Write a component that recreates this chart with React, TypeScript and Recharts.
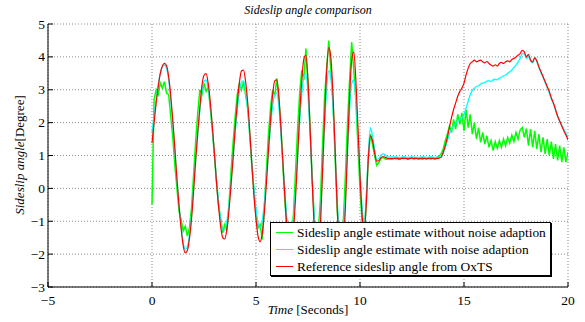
import React from 'react';
import { LineChart, Line, XAxis, YAxis, CartesianGrid } from 'recharts';

// time grid, 0..20 s every 0.1 s
const TIME = Array.from({ length: 201 }, (_, i) => i / 10);

const X_TICKS = [-5, 0, 5, 10, 15, 20];
const Y_TICKS = [-3, -2, -1, 0, 1, 2, 3, 4, 5];

// estimate without noise adaption (green)
const GREEN = [
  -0.5, 2.7, 3.0, 2.85, 3.2, 3.05, 3.25, 2.9, 2.85, 2.2,
  1.55, 0.7, 0.0, -0.7, -0.95, -1.3, -1.15, -1.45, -1.2, -0.6,
  0.4, 1.45, 2.3, 3.0, 2.85, 3.2, 2.95, 3.1, 2.45, 1.8,
  1.0, 0.2, -0.55, -0.9, -1.35, -1.1, -1.3, -0.5, 0.5, 1.4,
  2.2, 2.85, 3.2, 3.0, 3.25, 2.85, 2.45, 1.6, 0.7, -0.1,
  -0.8, -1.2, -1.1, -1.55, -0.6, 0.55, 1.65, 2.45, 3.0, 2.8,
  3.35, 2.7, 1.85, 0.6, -0.5, -1.3, -1.2, -1.6, -0.8, 0.5,
  1.8, 2.9, 3.6, 3.3, 4.25, 3.2, 1.85, 0.3, -0.9, -1.65,
  -1.3, -0.3, 1.3, 2.8, 3.7, 4.5, 3.6, 2.7, 1.0, -0.6,
  -1.6, -1.8, -1.0, 0.4, 2.0, 3.3, 4.45, 3.6, 2.7, 1.3,
  0.0, -1.0, -1.5, -0.4, 0.95, 1.65, 1.35, 1.0, 0.7, 0.78,
  0.9, 0.95, 0.9, 0.88, 0.92, 0.89, 0.93, 0.9, 0.91, 0.88,
  0.92, 0.9, 0.93, 0.89, 0.91, 0.92, 0.89, 0.93, 0.9, 0.91,
  0.88, 0.93, 0.9, 0.92, 0.89, 0.93, 0.9, 0.94, 0.98, 1.05,
  1.2, 1.45, 1.65, 1.9, 1.7, 2.1, 1.8, 2.25, 1.95, 2.3,
  1.75, 2.4, 1.85, 2.25, 1.65, 2.0, 1.5, 1.85, 1.4, 1.7,
  1.35, 1.6, 1.25, 1.45, 1.15, 1.42, 1.22, 1.45, 1.25, 1.5,
  1.3, 1.55, 1.38, 1.62, 1.42, 1.7, 1.5, 1.78, 1.85, 1.55,
  1.82, 1.3, 1.8, 1.25, 1.75, 1.2, 1.65, 1.1, 1.55, 1.05,
  1.5, 1.0, 1.42, 0.9, 1.35, 0.85, 1.3, 0.8, 1.25, 0.8,
  1.1,
];

// estimate with noise adaption (cyan)
const CYAN = [
  1.7, 2.2, 2.7, 3.15, 3.5, 3.7, 3.75, 3.65, 3.3, 2.72,
  1.98, 1.15, 0.27, -0.5, -1.16, -1.65, -1.85, -1.78, -1.42, -0.83,
  -0.02, 0.87, 1.65, 2.35, 2.95, 3.25, 3.3, 3.05, 2.55, 1.82,
  1.06, 0.27, -0.4, -0.95, -1.25, -1.26, -1.0, -0.5, 0.2, 0.93,
  1.72, 2.38, 2.93, 3.24, 3.27, 2.96, 2.42, 1.64, 0.78, 0.0,
  -0.62, -1.06, -1.2, -0.99, -0.45, 0.3, 1.11, 1.89, 2.5, 2.85,
  2.9, 2.48, 1.64, 0.72, -0.2, -1.0, -1.44, -1.42, -0.95, -0.1,
  0.95, 2.03, 2.85, 3.4, 3.48, 2.85, 1.65, 0.35, -0.85, -1.55,
  -1.54, -0.8, 0.6, 2.0, 3.05, 3.58, 3.35, 2.48, 1.17, -0.3,
  -1.35, -1.7, -1.35, -0.3, 1.15, 2.4, 3.18, 3.3, 2.75, 1.65,
  0.5, -0.55, -1.0, -0.3, 1.05, 1.85, 1.6, 1.2, 0.88, 0.9,
  1.0, 1.05, 1.02, 0.97, 0.95, 0.96, 0.95, 0.96, 0.95, 0.94,
  0.95, 0.96, 0.95, 0.94, 0.95, 0.96, 0.95, 0.95, 0.94, 0.95,
  0.96, 0.95, 0.94, 0.95, 0.96, 0.95, 0.94, 0.95, 0.95, 0.95,
  1.05, 1.25, 1.45, 1.65, 1.8, 1.9, 1.98, 2.05, 2.1, 2.15,
  2.25, 2.45, 2.65, 2.85, 2.98, 3.05, 3.1, 3.12, 3.18, 3.2,
  3.22, 3.26, 3.28, 3.25, 3.3, 3.32, 3.3, 3.36, 3.38, 3.42,
  3.45, 3.5, 3.55, 3.6, 3.68, 3.75, 3.85, 3.95, 4.1, 4.1,
  3.95, 4.03, 3.88, 3.82, 3.95, 3.85, 3.68, 3.52, 3.38, 3.22,
  3.06, 2.9, 2.72, 2.56, 2.38, 2.2, 2.05, 1.92, 1.8, 1.68,
  1.55,
];

// reference from OxTS (red)
const RED = [
  1.38, 2.0, 2.6, 3.1, 3.5, 3.72, 3.8, 3.73, 3.4, 2.82,
  2.07, 1.2, 0.28, -0.53, -1.22, -1.74, -1.96, -1.89, -1.53, -0.93,
  -0.08, 0.87, 1.7, 2.46, 3.12, 3.44, 3.49, 3.2, 2.64, 1.88,
  1.08, 0.19, -0.54, -1.15, -1.5, -1.54, -1.24, -0.67, 0.1, 0.93,
  1.84, 2.59, 3.21, 3.57, 3.6, 3.25, 2.62, 1.73, 0.74, -0.21,
  -0.94, -1.46, -1.62, -1.37, -0.73, 0.16, 1.15, 2.09, 2.85, 3.27,
  3.3, 2.8, 1.81, 0.71, -0.39, -1.33, -1.85, -1.83, -1.3, -0.29,
  0.96, 2.27, 3.28, 3.94, 4.05, 3.26, 1.84, 0.24, -1.18, -1.98,
  -1.97, -1.08, 0.52, 2.18, 3.59, 4.28, 3.97, 2.86, 1.24, -0.51,
  -1.75, -2.2, -1.75, -0.53, 1.2, 2.8, 3.89, 4.15, 3.3, 1.9,
  0.4, -0.8, -1.3, -0.5, 0.9, 1.6, 1.45, 1.1, 0.83, 0.84,
  0.93, 0.97, 0.95, 0.92, 0.9, 0.91, 0.9, 0.92, 0.91, 0.9,
  0.91, 0.92, 0.91, 0.9, 0.91, 0.92, 0.91, 0.91, 0.9, 0.91,
  0.92, 0.91, 0.9, 0.91, 0.92, 0.91, 0.9, 0.91, 0.92, 0.95,
  1.1, 1.3, 1.55, 1.85, 2.15, 2.4, 2.6, 2.8, 2.95, 3.05,
  3.2, 3.45, 3.65, 3.8, 3.85, 3.9, 3.85, 3.88, 3.9, 3.85,
  3.82, 3.86, 3.8, 3.75, 3.72, 3.76, 3.72, 3.8, 3.83, 3.8,
  3.85, 3.88, 3.85, 3.92, 3.95, 4.0, 4.05, 4.1, 4.2, 4.15,
  4.0, 4.08, 3.9, 3.85, 3.98, 3.88, 3.7, 3.55, 3.4, 3.25,
  3.1, 2.95, 2.75, 2.6, 2.4, 2.2, 2.05, 1.9, 1.75, 1.62,
  1.47,
];

const SERIES = [
  { key: 'green', name: 'Sideslip angle estimate without noise adaption', color: '#00ff00' },
  { key: 'cyan', name: 'Sideslip angle estimate with noise adaption', color: '#00ffff' },
  { key: 'red', name: 'Reference sideslip angle from OxTS', color: '#ff0000' },
];

const rows = TIME.map((t, i) => ({ t, green: GREEN[i], cyan: CYAN[i], red: RED[i] }));

const FONT = "'Liberation Serif', 'DejaVu Serif', serif";
const fmt = (v: number) => (v < 0 ? `\u2212${-v}` : `${v}`);

// inward tick marks (matlab style), label outside
const XTick = (props: any) => {
  const { x, y, payload } = props;
  return (
    <g>
      <line x1={x} x2={x} y1={287} y2={282} stroke="#000" />
      <text x={x} y={y + 10} textAnchor="middle" fill="#000" style={{ fontFamily: FONT, fontSize: 13.5 }}>
        {fmt(payload.value)}
      </text>
    </g>
  );
};

const YTick = (props: any) => {
  const { y, payload } = props;
  return (
    <g>
      <line x1={48} x2={53} y1={y} y2={y} stroke="#000" />
      <text x={45} y={y + 4.5} textAnchor="end" fill="#000" style={{ fontFamily: FONT, fontSize: 13.5 }}>
        {fmt(payload.value)}
      </text>
    </g>
  );
};

const LegendBox = () => (
  <div
    style={{
      position: 'absolute',
      left: 270,
      top: 222,
      width: 279,
      height: 51,
      border: '1px solid #000',
      boxShadow: '1px 1px 0 #000',
      background: '#fff',
      fontFamily: FONT,
      fontSize: 13.4,
      color: '#000',
      paddingTop: 1,
    }}
  >
    {SERIES.map((s) => (
      <div key={s.key} style={{ display: 'flex', alignItems: 'center', height: 17, lineHeight: '17px', whiteSpace: 'nowrap' }}>
        <span style={{ display: 'inline-block', width: 17, height: 1, background: s.color, marginLeft: 5, marginRight: 4 }} />
        <span>{s.name}</span>
      </div>
    ))}
  </div>
);

export default function App() {
  return (
    <div style={{ position: 'absolute', left: 0, top: 0, width: 585, height: 322, background: '#fff' }}>
      <LineChart
        width={585}
        height={322}
        data={rows}
        margin={{ top: 24, right: 17, bottom: 34, left: 47 }}
      >
        <CartesianGrid stroke="#8c8c8c" strokeDasharray="1 2" />
        <XAxis
          dataKey="t"
          type="number"
          domain={[-5, 20]}
          ticks={X_TICKS}
          height={1}
          tickLine={false}
          tick={<XTick />}
          axisLine={{ stroke: '#000' }}
          allowDataOverflow
        />
        <YAxis
          type="number"
          domain={[-3, 5]}
          ticks={Y_TICKS}
          width={1}
          tickLine={false}
          tick={<YTick />}
          axisLine={{ stroke: '#000' }}
          allowDataOverflow
        />
        <Line type="linear" dataKey="green" stroke="#00ff00" strokeWidth={1.5} dot={false} isAnimationActive={false} />
        <Line type="monotone" dataKey="cyan" stroke="#00ffff" strokeWidth={1.3} dot={false} isAnimationActive={false} />
        <Line type="monotone" dataKey="red" stroke="#ff0000" strokeWidth={1.2} dot={false} isAnimationActive={false} />
      </LineChart>
      <div
        style={{
          position: 'absolute',
          left: 48,
          width: 520,
          top: 3,
          textAlign: 'center',
          fontFamily: FONT,
          fontStyle: 'italic',
          fontSize: 12,
        }}
      >
        Sideslip angle comparison
      </div>
      <div
        style={{
          position: 'absolute',
          left: 48,
          width: 520,
          top: 302,
          textAlign: 'center',
          fontFamily: FONT,
          fontSize: 13,
        }}
      >
        <i>Time</i> [Seconds]
      </div>
      <div
        style={{
          position: 'absolute',
          left: 20,
          top: 155,
          transform: 'translate(-50%, -50%) rotate(-90deg)',
          whiteSpace: 'nowrap',
          fontFamily: FONT,
          fontSize: 13,
        }}
      >
        <i>Sideslip angle</i>[Degree]
      </div>
      <LegendBox />
    </div>
  );
}
